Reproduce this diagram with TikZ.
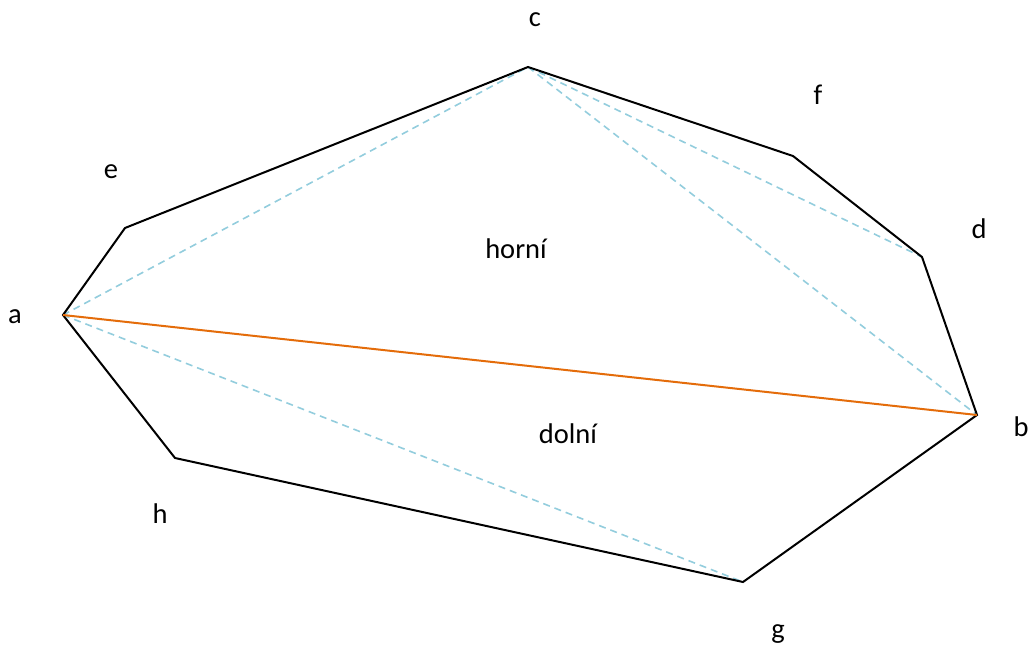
\documentclass[tikz,border=0pt]{standalone}
\usepackage{fontspec}
\setmainfont{Carlito}
\definecolor{orng}{HTML}{E46C0A}
\definecolor{lblue}{HTML}{93CDDD}
\tikzset{
  poly/.style={draw=black, line width=2pt, line join=miter},
  diag/.style={draw=lblue, line width=1.6pt, dash pattern=on 7pt off 5pt},
  main/.style={draw=orng, line width=2pt},
  lbl/.style={font=\fontsize{28.5}{33}\selectfont, inner sep=0pt}
}
\begin{document}
\begin{tikzpicture}[x=1pt,y=-1pt]
\useasboundingbox (0,0) rectangle (1031,648);
\coordinate (a) at (63,315);
\coordinate (e) at (125,228);
\coordinate (c) at (528,67);
\coordinate (f) at (793,156);
\coordinate (d) at (922,257);
\coordinate (b) at (977,415);
\coordinate (g) at (743,582);
\coordinate (h) at (175,458);
\draw[diag] (a) -- (c);
\draw[diag] (c) -- (d);
\draw[diag] (c) -- (b);
\draw[diag] (a) -- (g);
\draw[poly] (a) -- (e) -- (c) -- (f) -- (d) -- (b) -- (g) -- (h) -- cycle;
\draw[main] (a) -- (b);
\node[lbl] (la) at (15,317) {a};
\node[lbl] (lb) at (1021,427) {b};
\node[lbl] (lc) at (535,20) {c};
\node[lbl] (ld) at (979,229) {d};
\node[lbl] (le) at (111,172) {e};
\node[lbl] (lf) at (818,95) {f};
\node[lbl] (lg) at (778,634) {g};
\node[lbl] (lh) at (160,514) {h};
\node[lbl] (hor) at (516,249) {horní};
\node[lbl] (dol) at (568,434) {dolní};
\end{tikzpicture}
\end{document}
